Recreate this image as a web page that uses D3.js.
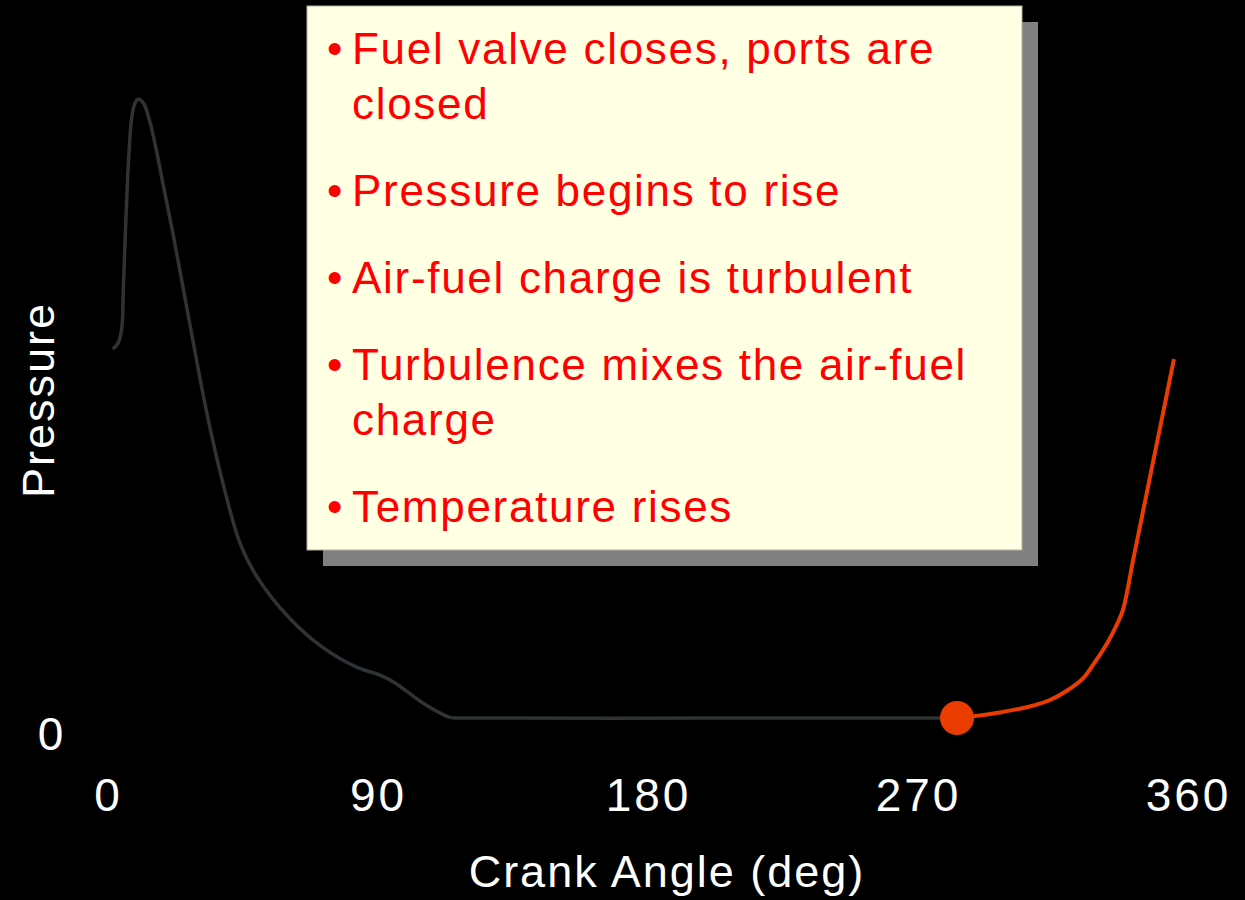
<!DOCTYPE html>
<html>
<head>
<meta charset="utf-8">
<script src="https://cdn.jsdelivr.net/npm/d3@7"></script>
<style>

html, body {
  width: 100%;
  height: 100%;
  overflow: hidden;
  margin: 0;
  padding: 0;
  background: #000;
}

text {
  font-family: "Liberation Sans", Arial, Helvetica, sans-serif;
}

.axis text {
  fill: #fff;
  font-size: 46px;
  letter-spacing: 3px;
}

.label {
  fill: #fff;
  font-size: 45px;
  letter-spacing: 2px;
}

.note {
  fill: #ff0000;
  font-size: 44px;
  letter-spacing: 1.7px;
}

</style>
</head>
<body>
<script>

// values: crank angle (deg) vs pressure (arbitrary units, 0..100)
var xTicks = [0, 90, 180, 270, 360],
    yTicks = [0];

var exhaustAngle    = [1.6, 3.4, 4.6, 5.1, 5.7, 6.8, 7.9, 9.0, 10.1, 11.8, 14.0, 16.2, 18.4, 21.8, 27.3,
                       32.9, 38.4, 44.0, 49.6, 60.7, 71.8, 82.9, 90.7, 96.2, 105, 114, 118.3, 200, 283],
    exhaustPressure = [59.5, 60.5, 62.9, 69.0, 77.1, 89.4, 96.8, 99.2, 99.8, 99.2, 96.1, 91.4, 86.0, 77.8, 63.5,
                       49.3, 37.7, 28.2, 22.8, 16.0, 11.3, 8.2, 6.9, 5.5, 2.4, 0.1, 0, 0, 0];

var compAngle    = [283, 288.7, 297.3, 308.4, 314, 319.6, 325, 328.4, 333, 336.2, 338.3, 341.8, 344, 347.3, 349.7, 352.9, 355.3],
    compPressure = [0, 0.3, 0.9, 2.0, 2.9, 4.4, 6.4, 8.6, 12.0, 15.0, 17.4, 25.7, 30.9, 38.8, 44.5, 52.1, 57.9];

var marker = {angle: 283, pressure: 0};

var notes = [
  ['Fuel valve closes, ports are', 'closed'],
  ['Pressure begins to rise'],
  ['Air-fuel charge is turbulent'],
  ['Turbulence mixes the air-fuel', 'charge'],
  ['Temperature rises']
];

var w = 1245,
    h = 900;

var svg = d3.select('body').append('svg')
  .attr('width', w)
  .attr('height', h);

svg.append('rect')
  .attr('width', w)
  .attr('height', h)
  .attr('fill', '#000');

var x = d3.scaleLinear().domain([0, 360]).range([108, 1188]),
    y = d3.scaleLinear().domain([0, 100]).range([718, 98]);

var line = d3.line()
  .x(function(d){ return x(d[0]); })
  .y(function(d){ return y(d[1]); })
  .curve(d3.curveCatmullRom.alpha(0.5));

// exhaust / blowdown part of the cycle
svg.append('path')
  .datum(d3.zip(exhaustAngle, exhaustPressure))
  .attr('d', line)
  .attr('fill', 'none')
  .attr('stroke', '#2e3335')
  .attr('stroke-width', 3.5);

// compression part, highlighted
svg.append('path')
  .datum(d3.zip(compAngle, compPressure))
  .attr('d', line)
  .attr('fill', 'none')
  .attr('stroke', '#ea3c00')
  .attr('stroke-width', 4);

svg.append('circle')
  .attr('cx', x(marker.angle))
  .attr('cy', y(marker.pressure))
  .attr('r', 17)
  .attr('fill', '#ea3c00');

// axes: labels only, no lines
var xAxis = svg.append('g')
  .attr('class', 'axis')
  .attr('transform', 'translate(0,811)')
  .call(d3.axisBottom(x).tickValues(xTicks).tickSize(0).tickPadding(0));

xAxis.select('.domain').remove();
xAxis.selectAll('text').attr('dy', 0).attr('y', 0).attr('fill', '#fff');

var yAxis = svg.append('g')
  .attr('class', 'axis')
  .call(d3.axisLeft(y).tickValues(yTicks).tickSize(0).tickPadding(0));

yAxis.select('.domain').remove();
yAxis.selectAll('.tick')
  .attr('transform', function(d){ return 'translate(52,' + (y(d) + 32) + ')'; });
yAxis.selectAll('text')
  .attr('x', 0)
  .attr('dy', 0)
  .attr('fill', '#fff')
  .attr('text-anchor', 'middle');

svg.append('text')
  .attr('class', 'label')
  .attr('x', 667)
  .attr('y', 887)
  .attr('text-anchor', 'middle')
  .text('Crank Angle (deg)');

svg.append('text')
  .attr('class', 'label')
  .attr('transform', 'translate(54,400) rotate(-90)')
  .attr('text-anchor', 'middle')
  .text('Pressure');

// callout box with shadow
var box = {x: 307, y: 6, w: 715, h: 544};

svg.append('rect')
  .attr('x', box.x + 16)
  .attr('y', box.y + 16)
  .attr('width', box.w)
  .attr('height', box.h)
  .attr('fill', '#808080');

svg.append('rect')
  .attr('x', box.x)
  .attr('y', box.y)
  .attr('width', box.w)
  .attr('height', box.h)
  .attr('fill', '#ffffe3')
  .attr('stroke', '#b0b0a0')
  .attr('stroke-width', 1);

var lineGap = 55,
    itemGap = 87,
    baseline = 64;

notes.forEach(function(item){
  svg.append('text')
    .attr('class', 'note')
    .attr('x', 327)
    .attr('y', baseline)
    .text('\u2022');
  item.forEach(function(t, i){
    svg.append('text')
      .attr('class', 'note')
      .attr('x', 352)
      .attr('y', baseline + i * lineGap)
      .text(t);
  });
  baseline += (item.length - 1) * lineGap + itemGap;
});

</script>
</body>
</html>
